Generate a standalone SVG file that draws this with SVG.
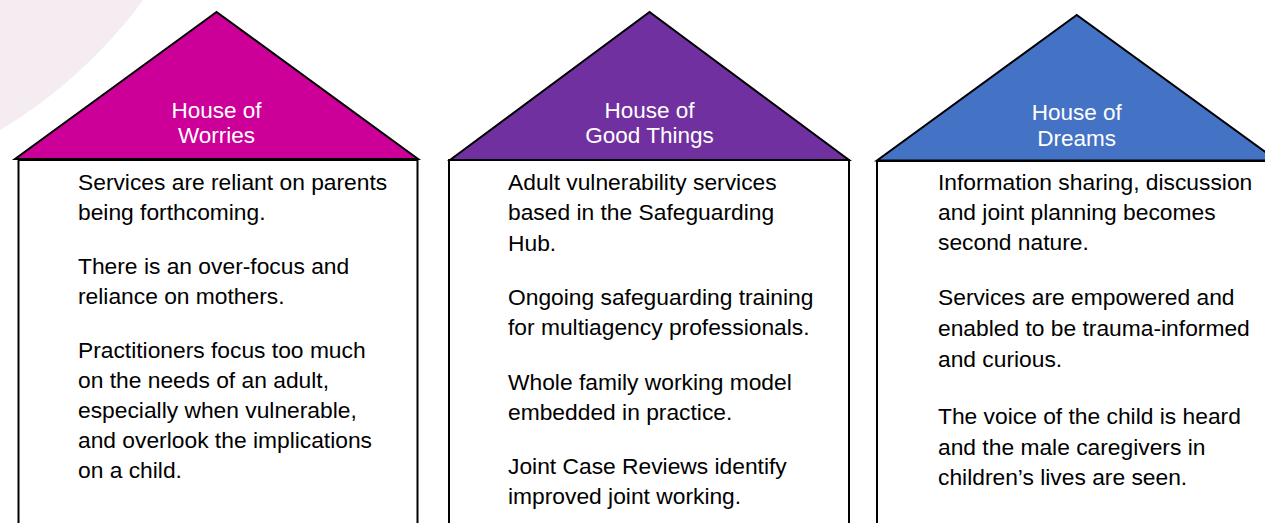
<svg xmlns="http://www.w3.org/2000/svg" width="1265" height="523" viewBox="0 0 1265 523">
  <style>
    .roof { stroke: #000; stroke-width: 2; stroke-linejoin: miter; }
    .body { fill: #fff; stroke: #000; stroke-width: 2; }
    .label { font-family: "Liberation Sans", Arial, sans-serif; font-size: 22.5px; fill: #fff; text-anchor: middle; }
    .txt { font-family: "Liberation Sans", Arial, sans-serif; font-size: 22.8px; fill: #000; }
  </style>
  <rect x="0" y="0" width="1265" height="523" fill="#fff"/>
  <circle id="bg-arc" cx="-250" cy="-289" r="488" fill="#f4ecf1"/>

  <g id="house-worries">
    <rect class="body" x="18.5" y="160" width="399" height="380"/>
    <polygon class="roof" fill="#cc0099" points="216.5,12 15,159 418,159"/>
    <text class="label"><tspan x="216.5" y="118">House of</tspan><tspan x="216.5" y="143">Worries</tspan></text>
    <text class="txt">
      <tspan x="78" y="190">Services are reliant on parents</tspan>
      <tspan x="78" y="220">being forthcoming.</tspan>
      <tspan x="78" y="274">There is an over-focus and</tspan>
      <tspan x="78" y="304">reliance on mothers.</tspan>
      <tspan x="78" y="358">Practitioners focus too much</tspan>
      <tspan x="78" y="388">on the needs of an adult,</tspan>
      <tspan x="78" y="418">especially when vulnerable,</tspan>
      <tspan x="78" y="448">and overlook the implications</tspan>
      <tspan x="78" y="478">on a child.</tspan>
    </text>
  </g>

  <g id="house-good-things">
    <rect class="body" x="449" y="160" width="400" height="380"/>
    <polygon class="roof" fill="#7030a0" points="649.5,12 450,160 849,160"/>
    <text class="label"><tspan x="649.5" y="118">House of</tspan><tspan x="649.5" y="143">Good Things</tspan></text>
    <text class="txt">
      <tspan x="508" y="190">Adult vulnerability services</tspan>
      <tspan x="508" y="220">based in the Safeguarding</tspan>
      <tspan x="508" y="251">Hub.</tspan>
      <tspan x="508" y="305">Ongoing safeguarding training</tspan>
      <tspan x="508" y="335">for multiagency professionals.</tspan>
      <tspan x="508" y="390">Whole family working model</tspan>
      <tspan x="508" y="420">embedded in practice.</tspan>
      <tspan x="508" y="474">Joint Case Reviews identify</tspan>
      <tspan x="508" y="504">improved joint working.</tspan>
    </text>
  </g>

  <g id="house-dreams">
    <rect class="body" x="877" y="161" width="420" height="380"/>
    <polygon class="roof" fill="#4472c4" points="1076.7,15 877,160.5 1277,160.5"/>
    <text class="label"><tspan x="1076.7" y="120">House of</tspan><tspan x="1076.7" y="145.5">Dreams</tspan></text>
    <text class="txt">
      <tspan x="938" y="190">Information sharing, discussion</tspan>
      <tspan x="938" y="220">and joint planning becomes</tspan>
      <tspan x="938" y="250">second nature.</tspan>
      <tspan x="938" y="305">Services are empowered and</tspan>
      <tspan x="938" y="336">enabled to be trauma-informed</tspan>
      <tspan x="938" y="367">and curious.</tspan>
      <tspan x="938" y="424">The voice of the child is heard</tspan>
      <tspan x="938" y="455">and the male caregivers in</tspan>
      <tspan x="938" y="485">children’s lives are seen.</tspan>
    </text>
  </g>

  <g id="connectors"></g>
</svg>
